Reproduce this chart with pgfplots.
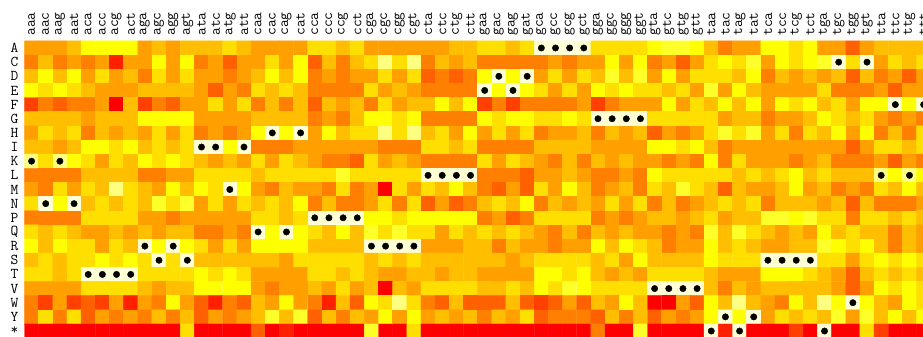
\documentclass[border=0pt]{standalone}
\usepackage{pgfplots}
\pgfplotsset{compat=1.18}
\begin{document}
\begin{tikzpicture}
\path[use as bounding box] (-24.5pt,1.1pt) rectangle (898.5pt,338.1pt);
\clip (-24.5pt,1.1pt) rectangle (898.5pt,338.1pt);
\begin{axis}[
  scale only axis, width=906.24pt, height=297.2pt,
  xmin=-0.5, xmax=63.5, ymin=-0.5, ymax=20.5, y dir=reverse,
  enlargelimits=false,
  axis line style={draw=none}, major tick length=0pt, tick style={draw=none},
  colormap={heat}{rgb255=(255,0,0) rgb255=(255,32,0) rgb255=(255,64,0) rgb255=(255,96,0) rgb255=(255,128,0) rgb255=(255,159,0) rgb255=(255,191,0) rgb255=(255,223,0) rgb255=(255,255,0) rgb255=(255,255,42) rgb255=(255,255,128) rgb255=(255,255,213)},
  colormap access=direct,
  xtick={0,...,63}, xticklabel pos=right,
  xticklabels={aaa,aac,aag,aat,aca,acc,acg,act,aga,agc,agg,agt,ata,atc,atg,att,caa,cac,cag,cat,cca,ccc,ccg,cct,cga,cgc,cgg,cgt,cta,ctc,ctg,ctt,gaa,gac,gag,gat,gca,gcc,gcg,gct,gga,ggc,ggg,ggt,gta,gtc,gtg,gtt,taa,tac,tag,tat,tca,tcc,tcg,tct,tga,tgc,tgg,tgt,tta,ttc,ttg,ttt},
  xticklabel style={rotate=90, anchor=west, font=\ttfamily\fontsize{15}{15}\selectfont, inner sep=0pt},
  xticklabel shift=5pt,
  ytick={0,...,20},
  yticklabels={A,C,D,E,F,G,H,I,K,L,M,N,P,Q,R,S,T,V,W,Y,*},
  yticklabel style={anchor=east, font=\ttfamily\fontsize{15}{15}\selectfont, inner sep=0pt},
  yticklabel shift=6pt,
]
\addplot[matrix plot*, mesh/cols=64, mesh/rows=21, point meta=explicit]
 table[row sep=\\, header=false, x expr={\coordindex-64*floor((\coordindex+0.5)/64)}, y expr={floor((\coordindex+0.5)/64)}, meta index=0] {
5\\5\\5\\6\\8\\8\\8\\8\\5\\6\\5\\6\\6\\6\\7\\6\\5\\5\\5\\5\\7\\7\\6\\7\\5\\5\\5\\5\\5\\5\\6\\6\\7\\7\\6\\7\\11\\11\\11\\11\\7\\7\\7\\7\\8\\9\\9\\8\\6\\4\\5\\5\\8\\8\\7\\8\\5\\5\\3\\5\\6\\6\\6\\6\\
4\\6\\4\\5\\4\\5\\1\\5\\5\\8\\5\\8\\4\\5\\3\\5\\5\\7\\5\\8\\3\\6\\4\\6\\7\\10\\7\\10\\4\\6\\5\\6\\4\\4\\4\\4\\4\\5\\4\\5\\5\\8\\5\\8\\4\\5\\3\\5\\7\\8\\7\\9\\5\\8\\7\\8\\9\\11\\7\\11\\5\\7\\6\\7\\
6\\8\\6\\8\\5\\7\\5\\6\\4\\7\\5\\7\\5\\5\\4\\5\\6\\8\\6\\8\\4\\5\\4\\5\\5\\7\\5\\7\\3\\4\\3\\4\\8\\11\\8\\11\\5\\7\\5\\7\\6\\9\\6\\9\\5\\8\\5\\7\\7\\7\\6\\8\\4\\6\\5\\6\\5\\6\\3\\6\\4\\5\\3\\5\\
8\\7\\8\\7\\6\\5\\5\\5\\6\\6\\6\\6\\5\\3\\5\\4\\7\\6\\7\\6\\4\\4\\4\\4\\7\\5\\6\\5\\4\\4\\4\\4\\11\\8\\11\\8\\7\\5\\7\\5\\8\\7\\8\\7\\7\\6\\7\\5\\9\\5\\8\\6\\5\\5\\5\\5\\7\\4\\4\\4\\5\\3\\5\\5\\
2\\4\\3\\4\\4\\5\\0\\6\\2\\4\\3\\5\\5\\7\\5\\7\\4\\6\\4\\6\\3\\6\\5\\6\\4\\7\\5\\6\\6\\8\\6\\8\\2\\4\\2\\4\\4\\4\\4\\5\\2\\4\\5\\5\\5\\8\\5\\7\\6\\8\\6\\8\\5\\8\\7\\8\\6\\7\\5\\8\\8\\11\\8\\11\\
6\\6\\6\\6\\5\\6\\6\\6\\8\\8\\8\\8\\5\\5\\5\\5\\6\\6\\6\\6\\4\\5\\4\\6\\8\\8\\7\\8\\4\\4\\4\\4\\8\\7\\8\\8\\7\\7\\8\\7\\11\\11\\11\\11\\7\\7\\7\\7\\7\\5\\6\\6\\4\\5\\5\\6\\8\\7\\6\\7\\5\\4\\5\\4\\
5\\7\\6\\7\\4\\6\\5\\6\\5\\7\\5\\7\\4\\5\\4\\5\\8\\11\\8\\11\\5\\8\\6\\7\\7\\10\\7\\10\\6\\7\\5\\8\\5\\7\\5\\7\\4\\5\\5\\6\\4\\6\\5\\6\\3\\5\\4\\5\\7\\9\\7\\9\\5\\7\\4\\7\\6\\8\\5\\8\\4\\6\\4\\7\\
6\\6\\5\\6\\8\\8\\7\\8\\6\\7\\6\\7\\11\\11\\8\\11\\4\\4\\4\\5\\5\\5\\5\\5\\5\\4\\4\\4\\7\\7\\6\\7\\4\\4\\4\\4\\6\\6\\6\\6\\5\\5\\5\\5\\8\\8\\7\\8\\6\\4\\5\\5\\5\\5\\5\\5\\5\\5\\3\\5\\7\\7\\6\\7\\
10\\7\\10\\8\\7\\5\\7\\6\\8\\7\\8\\7\\6\\5\\6\\5\\7\\5\\7\\6\\5\\4\\4\\3\\7\\5\\6\\5\\4\\4\\4\\4\\7\\5\\7\\6\\5\\4\\6\\4\\6\\5\\6\\5\\5\\4\\5\\4\\8\\4\\7\\5\\5\\5\\4\\5\\6\\4\\4\\4\\5\\3\\5\\4\\
4\\4\\4\\4\\6\\6\\6\\6\\4\\4\\5\\5\\7\\7\\7\\7\\6\\7\\7\\7\\7\\7\\9\\7\\7\\7\\7\\7\\11\\11\\11\\11\\4\\4\\4\\3\\5\\5\\6\\5\\4\\4\\5\\4\\8\\7\\7\\7\\7\\7\\6\\7\\6\\7\\8\\6\\7\\6\\6\\6\\10\\8\\10\\8\\
5\\4\\7\\5\\7\\6\\10\\7\\6\\5\\8\\6\\8\\7\\11\\8\\5\\4\\6\\5\\5\\4\\7\\4\\5\\0\\7\\5\\7\\6\\8\\6\\4\\3\\5\\3\\7\\5\\8\\6\\4\\5\\6\\4\\7\\6\\9\\7\\6\\3\\6\\5\\5\\6\\8\\5\\6\\4\\5\\4\\7\\6\\8\\6\\
7\\11\\8\\11\\6\\7\\6\\7\\6\\9\\7\\9\\5\\7\\5\\7\\6\\7\\6\\8\\4\\6\\4\\4\\5\\7\\4\\7\\3\\5\\3\\4\\6\\7\\6\\8\\4\\6\\5\\6\\5\\7\\5\\7\\4\\6\\4\\5\\6\\7\\6\\7\\4\\6\\6\\6\\5\\6\\3\\6\\4\\4\\4\\5\\
4\\4\\4\\4\\7\\7\\7\\7\\5\\5\\4\\5\\5\\5\\5\\5\\7\\7\\6\\7\\11\\11\\11\\11\\8\\8\\7\\8\\8\\8\\8\\8\\4\\5\\3\\4\\7\\7\\7\\7\\4\\5\\4\\5\\6\\6\\5\\6\\7\\5\\6\\6\\9\\9\\8\\9\\7\\7\\4\\7\\7\\6\\7\\6\\
7\\6\\7\\6\\5\\5\\6\\5\\6\\5\\6\\6\\4\\4\\5\\4\\11\\8\\11\\8\\7\\6\\8\\6\\9\\7\\9\\7\\7\\5\\7\\6\\7\\6\\7\\6\\5\\4\\6\\4\\6\\5\\6\\5\\5\\4\\5\\4\\9\\6\\9\\7\\6\\5\\6\\5\\8\\6\\7\\6\\6\\4\\6\\5\\
8\\6\\8\\7\\7\\5\\7\\6\\11\\8\\11\\8\\7\\5\\7\\5\\8\\8\\8\\8\\6\\6\\6\\6\\11\\11\\11\\11\\5\\5\\5\\6\\6\\4\\6\\5\\5\\4\\5\\5\\8\\6\\8\\7\\6\\4\\5\\5\\8\\6\\7\\6\\5\\5\\6\\6\\9\\8\\7\\8\\6\\4\\6\\5\\
6\\7\\6\\7\\7\\8\\7\\8\\7\\11\\7\\11\\6\\6\\6\\6\\6\\6\\5\\7\\7\\7\\7\\7\\6\\7\\6\\7\\6\\6\\6\\6\\6\\6\\5\\6\\7\\7\\7\\7\\6\\7\\5\\8\\6\\6\\6\\6\\8\\7\\7\\7\\11\\11\\11\\11\\7\\7\\5\\7\\8\\7\\8\\7\\
7\\7\\6\\7\\11\\11\\11\\11\\7\\7\\7\\7\\8\\7\\8\\7\\5\\5\\5\\5\\7\\7\\6\\7\\6\\5\\5\\6\\6\\5\\6\\6\\5\\5\\5\\5\\8\\8\\7\\8\\6\\5\\6\\5\\7\\7\\7\\7\\6\\5\\5\\5\\8\\8\\8\\7\\6\\5\\3\\6\\7\\6\\7\\6\\
5\\5\\5\\5\\7\\7\\7\\7\\6\\5\\6\\6\\8\\8\\8\\8\\5\\4\\5\\5\\6\\5\\7\\5\\6\\0\\6\\5\\7\\7\\7\\7\\6\\6\\7\\6\\8\\7\\9\\8\\7\\7\\7\\7\\11\\11\\11\\11\\6\\4\\6\\5\\6\\6\\6\\6\\6\\5\\3\\5\\8\\7\\8\\7\\
4\\2\\5\\2\\3\\2\\5\\1\\5\\4\\8\\5\\3\\1\\4\\3\\6\\5\\8\\5\\4\\1\\6\\3\\8\\7\\10\\7\\4\\3\\6\\3\\3\\3\\6\\3\\2\\3\\5\\3\\6\\5\\8\\6\\0\\0\\5\\3\\8\\6\\10\\6\\5\\4\\8\\6\\10\\8\\11\\8\\6\\5\\8\\7\\
4\\7\\4\\7\\3\\5\\4\\5\\4\\6\\4\\6\\3\\5\\4\\5\\6\\9\\6\\9\\3\\6\\4\\6\\5\\8\\5\\8\\5\\6\\5\\6\\4\\6\\5\\7\\3\\4\\4\\4\\3\\6\\4\\6\\3\\5\\4\\5\\8\\11\\8\\11\\5\\7\\6\\7\\6\\9\\5\\9\\6\\8\\6\\8\\
0\\0\\0\\0\\0\\0\\0\\0\\0\\0\\0\\7\\0\\0\\0\\0\\3\\0\\1\\0\\0\\0\\0\\0\\9\\0\\0\\7\\0\\0\\0\\0\\0\\0\\0\\0\\0\\0\\0\\0\\4\\0\\0\\9\\0\\0\\0\\0\\11\\1\\11\\0\\0\\0\\2\\0\\11\\0\\0\\7\\2\\0\\0\\0\\
};
\addplot[only marks, mark=*, mark size=3.2pt, black] coordinates {
(0,8) (1,11) (2,8) (3,11) (4,16) (5,16) (6,16) (7,16) (8,14) (9,15) (10,14) (11,15) (12,7) (13,7) (14,10) (15,7)
(16,13) (17,6) (18,13) (19,6) (20,12) (21,12) (22,12) (23,12) (24,14) (25,14) (26,14) (27,14) (28,9) (29,9) (30,9) (31,9)
(32,3) (33,2) (34,3) (35,2) (36,0) (37,0) (38,0) (39,0) (40,5) (41,5) (42,5) (43,5) (44,17) (45,17) (46,17) (47,17)
(48,20) (49,19) (50,20) (51,19) (52,15) (53,15) (54,15) (55,15) (56,20) (57,1) (58,18) (59,1) (60,9) (61,4) (62,9) (63,4)
};
\end{axis}
\end{tikzpicture}
\end{document}
